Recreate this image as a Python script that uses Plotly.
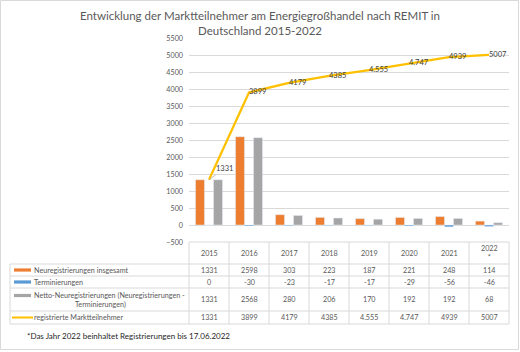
import plotly.graph_objects as go

# ---------------- data ----------------
years = ["2015", "2016", "2017", "2018", "2019", "2020", "2021", "2022"]
header_labels = ["2015", "2016", "2017", "2018", "2019", "2020", "2021", "2022<br>*"]
neureg = [1331, 2598, 303, 223, 187, 221, 248, 114]
term = [0, -30, -23, -17, -17, -29, -56, -46]
netto = [1331, 2568, 280, 206, 170, 192, 192, 68]
registered = [1331, 3899, 4179, 4385, 4555, 4747, 4939, 5007]
registered_labels = ["1331", "3899", "4179", "4385", "4.555", "4.747", "4939", "5007"]

series_names = [
    "Neuregistrierungen insgesamt",
    "Terminierungen",
    "Netto-Neuregistrierungen (Neuregistrierungen -",
    "registrierte Marktteilnehmer",
]
netto_name_line2 = "Terminierungen)"
title_text = "Entwicklung der Marktteilnehmer am Energiegroßhandel nach REMIT in<br>Deutschland 2015-2022"
footnote = "*Das Jahr 2022 beinhaltet Registrierungen bis 17.06.2022"

# ---------------- style ----------------
C_OR = "#ED7D31"
C_BL = "#5B9BD5"
C_GR = "#A5A5A5"
C_GOLD = "#FFC000"
GRID = "#D9D9D9"
TXT = "#595959"
FONT = "Lato, 'Open Sans', sans-serif"

W, H = 520, 352
L, T, PW, PH = 189, 38, 320, 204


def px(x):
    return (x - L) / PW


def py(y):
    return (T + PH - y) / PH


fig = go.Figure()
fig.add_trace(go.Bar(x=years, y=neureg, marker_color=C_OR, name=series_names[0]))
fig.add_trace(go.Bar(x=years, y=term, marker_color=C_BL, name=series_names[1]))
fig.add_trace(go.Bar(x=years, y=netto, marker_color=C_GR, name="Netto-Neuregistrierungen"))

line_text = [""] + registered_labels[1:]
fig.add_trace(go.Scatter(
    x=years, y=registered, mode="lines+text", text=line_text,
    textposition="middle right", textfont=dict(size=7.5, color="#404040", family=FONT),
    line=dict(color=C_GOLD, width=2.25), cliponaxis=False, name=series_names[3],
))

annotations = []
# first point label with leader line
annotations.append(dict(
    x=0, y=registered[0], xref="x", yref="y", text=registered_labels[0],
    showarrow=True, arrowhead=0, arrowwidth=0.7, arrowcolor="#A6A6A6",
    ax=15, ay=-11, standoff=0, font=dict(size=7.5, color="#404040", family=FONT),
))

# table rows (pixel boundaries)
row_bounds = [264, 276, 288, 311, 324]
row_centers = [(row_bounds[i] + row_bounds[i + 1]) / 2 for i in range(4)]
header_center = (242 + 264) / 2
table_rows = [
    [str(v) for v in neureg],
    [str(v) for v in term],
    [str(v) for v in netto],
    registered_labels,
]
tfont = dict(size=7.2, color=TXT, family=FONT)
for i, yl in enumerate(header_labels):
    annotations.append(dict(x=i, xref="x", y=py(header_center), yref="paper",
                            text=yl, showarrow=False, font=tfont, yanchor="middle"))
for r, row in enumerate(table_rows):
    for i, v in enumerate(row):
        annotations.append(dict(x=i, xref="x", y=py(row_centers[r]), yref="paper",
                                text=v, showarrow=False, font=tfont, yanchor="middle"))

# row labels
label_y = [row_centers[0], row_centers[1], 295.5, row_centers[3]]
for r in range(4):
    annotations.append(dict(x=px(32), xref="paper", y=py(label_y[r]), yref="paper",
                            text=series_names[r], showarrow=False, font=tfont,
                            xanchor="left", yanchor="middle"))
annotations.append(dict(x=px(100), xref="paper", y=py(304.5), yref="paper",
                        text=netto_name_line2, showarrow=False, font=tfont,
                        xanchor="center", yanchor="middle"))

# footnote
annotations.append(dict(x=px(25), xref="paper", y=py(336), yref="paper", text=footnote,
                        showarrow=False, xanchor="left", yanchor="middle",
                        font=dict(size=8, color="#262626", family=FONT)))

shapes = []
# horizontal table lines
shapes.append(dict(type="line", xref="paper", yref="paper", x0=0, x1=1, y0=py(242), y1=py(242),
                   line=dict(color=GRID, width=1)))
for yb in row_bounds:
    shapes.append(dict(type="line", xref="paper", yref="paper", x0=px(10), x1=1, y0=py(yb), y1=py(yb),
                       line=dict(color=GRID, width=1)))
# vertical lines
shapes.append(dict(type="line", xref="paper", yref="paper", x0=px(10), x1=px(10), y0=py(264), y1=py(324),
                   line=dict(color=GRID, width=1)))
n = len(years)
for k in range(n + 1):
    shapes.append(dict(type="line", xref="paper", yref="paper", x0=k / n, x1=k / n, y0=py(242), y1=py(324),
                       line=dict(color=GRID, width=1)))
# legend keys
key_colors = [C_OR, C_BL, C_GR]
for r in range(3):
    yc = label_y[r]
    shapes.append(dict(type="rect", xref="paper", yref="paper", x0=px(14), x1=px(31),
                       y0=py(yc - 1.6), y1=py(yc + 1.6), fillcolor=key_colors[r], line=dict(width=0)))
shapes.append(dict(type="line", xref="paper", yref="paper", x0=px(12), x1=px(33),
                   y0=py(label_y[3]), y1=py(label_y[3]), line=dict(color=C_GOLD, width=2)))
# outer border
shapes.append(dict(type="rect", xref="paper", yref="paper", x0=px(0.5), x1=px(518.5),
                   y0=py(349.5), y1=py(0.5), line=dict(color=GRID, width=1), layer="below"))

fig.update_layout(
    width=W, height=H,
    margin=dict(l=L, r=W - L - PW, t=T, b=H - T - PH),
    paper_bgcolor="white", plot_bgcolor="white",
    barmode="group", bargap=0.325, bargroupgap=0,
    showlegend=False,
    title=dict(text=title_text, x=0.5, xref="container", xanchor="center",
               y=1 - 20 / H, yanchor="middle",
               font=dict(size=11.5, color=TXT, family=FONT)),
    font=dict(family=FONT, color=TXT),
    annotations=annotations,
    shapes=shapes,
)
fig.update_xaxes(type="category", range=[-0.5, 7.5], showticklabels=False, showgrid=False,
                 zeroline=False, showline=False)
fig.update_yaxes(range=[-500, 5500], dtick=500, tick0=0, gridcolor=GRID, gridwidth=1, zeroline=False,
                 showline=False, tickfont=dict(size=7.2, color=TXT, family=FONT), ticklabelstandoff=5)

fig.write_html("out.html")
